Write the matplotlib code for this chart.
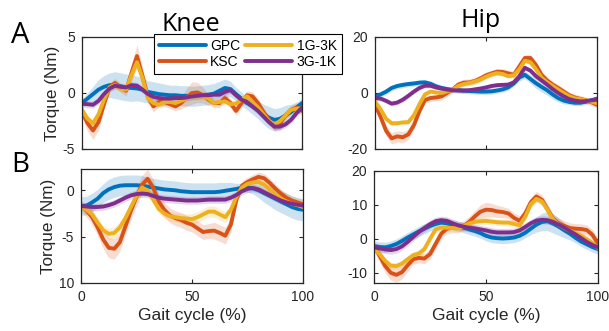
import numpy as np
import matplotlib
matplotlib.use("Agg")
import matplotlib.pyplot as plt

plt.rcParams['font.family'] = ['Liberation Sans', 'DejaVu Sans']

gait = [0, 2.5, 5, 7.5, 10, 12.5, 15, 17.5, 20, 22.5, 25, 27.5, 30, 32.5, 35, 37.5, 40,
        42.5, 45, 47.5, 50, 52.5, 55, 57.5, 60, 62.5, 65, 67.5, 70, 72.5, 75, 77.5, 80,
        82.5, 85, 87.5, 90, 92.5, 95, 97.5, 100]

groups = ["GPC", "KSC", "1G-3K", "3G-1K"]
colors = ["#0072BD", "#D95319", "#EDB120", "#7E2F8E"]

# ---- Knee, panel A ----
knee_a_gpc = [-0.9, -0.5, -0.1, 0.3, 0.55, 0.7, 0.7, 0.6, 0.5, 0.45, 0.4, 0.3, 0.1, 0.0, -0.1,
              -0.15, -0.2, -0.2, -0.25, -0.25, -0.3, -0.25, -0.2, -0.15, -0.05, 0.2, 0.45, 0.35,
              -0.1, -0.5, -0.9, -1.2, -1.5, -1.9, -2.2, -2.4, -2.3, -2.0, -1.7, -1.3, -0.9]
knee_a_ksc = [-1.65, -2.7, -3.35, -2.6, -1.0, 0.5, 0.9, 0.5, 0.2, 1.8, 3.3, 1.5, -0.4, -1.2,
              -0.8, -0.8, -1.0, -1.2, -0.9, -0.4, 0.0, 0.05, -0.2, -0.6, -0.9, -0.9, -0.45,
              -0.9, -1.6, -0.9, -0.2, -0.3, -0.9, -1.7, -2.4, -3.0, -2.7, -2.0, -1.5, -1.3, -1.6]
knee_a_1g3k = [-1.5, -2.3, -2.7, -1.9, -0.6, 0.5, 0.7, 0.35, 0.3, 1.6, 2.75, 1.3, -0.5, -0.9,
               -1.05, -0.8, -0.8, -0.9, -0.7, -0.5, -0.3, -0.3, -0.3, -0.5, -0.9, -0.8, -0.75,
               -1.0, -0.95, -0.6, -0.3, -0.8, -1.3, -1.9, -2.5, -2.8, -2.5, -2.0, -1.5, -1.4, -1.35]
knee_a_3g1k = [-0.95, -1.0, -1.05, -0.7, -0.1, 0.4, 0.65, 0.55, 0.5, 0.7, 0.65, 0.3, -0.1,
               -0.35, -0.45, -0.5, -0.5, -0.45, -0.45, -0.4, -0.3, -0.25, -0.2, -0.2, -0.15,
               -0.15, 0.1, 0.25, -0.2, -0.6, -0.8, -1.2, -1.6, -2.1, -2.6, -3.0, -3.0, -2.8,
               -2.4, -1.8, -1.3]
knee_a_gpc_sd = [0.4, 0.5, 0.7, 0.9, 1.0, 1.1, 1.2, 1.2, 1.2, 1.2, 1.1, 1.1, 1.0, 1.0, 1.0,
                 0.95, 0.9, 0.9, 0.9, 0.9, 0.9, 0.9, 0.9, 0.9, 0.9, 0.85, 0.8, 0.7, 0.6, 0.6,
                 0.6, 0.7, 0.8, 0.9, 1.0, 1.0, 1.0, 0.9, 0.7, 0.5, 0.4]
knee_a_ksc_sd = [0.5, 0.7, 0.8, 0.7, 0.5, 0.4, 0.4, 0.4, 0.5, 0.8, 1.0, 0.8, 0.6, 0.5, 0.4,
                 0.4, 0.4, 0.4, 0.5, 0.8, 1.0, 0.9, 0.7, 0.5, 0.4, 0.4, 0.4, 0.4, 0.4, 0.4,
                 0.4, 0.4, 0.4, 0.4, 0.4, 0.4, 0.4, 0.4, 0.4, 0.4, 0.4]
knee_a_1g3k_sd = [0.3, 0.3, 0.3, 0.3, 0.3, 0.3, 0.3, 0.3, 0.3, 0.35, 0.4, 0.35, 0.3, 0.3, 0.3,
                  0.3, 0.3, 0.3, 0.3, 0.3, 0.3, 0.3, 0.3, 0.3, 0.3, 0.3, 0.3, 0.3, 0.3, 0.3,
                  0.3, 0.3, 0.3, 0.3, 0.3, 0.3, 0.3, 0.3, 0.3, 0.3, 0.3]
knee_a_3g1k_sd = [0.3, 0.3, 0.3, 0.3, 0.3, 0.3, 0.3, 0.3, 0.3, 0.3, 0.3, 0.3, 0.3, 0.3, 0.3,
                  0.3, 0.3, 0.3, 0.3, 0.3, 0.3, 0.3, 0.3, 0.3, 0.3, 0.3, 0.3, 0.3, 0.3, 0.3,
                  0.3, 0.3, 0.3, 0.3, 0.3, 0.3, 0.3, 0.3, 0.3, 0.3, 0.3]

# ---- Hip, panel A ----
hip_a_gpc = [-1.2, -0.5, 0.5, 1.8, 2.5, 2.9, 3.2, 3.4, 3.7, 3.8, 3.3, 2.4, 1.8, 1.4, 1.1, 1.0,
             0.8, 0.7, 0.6, 0.5, 0.5, 0.6, 0.9, 1.3, 2.0, 3.4, 5.5, 6.5, 5.0, 3.5, 2.2, 1.0,
             -0.5, -1.8, -2.7, -3.2, -3.5, -3.5, -3.1, -2.6, -2.0]
hip_a_ksc = [-4.2, -8.5, -13.5, -16.2, -15.5, -15.8, -14.8, -11.5, -6.5, -2.5, -1.8, -1.6,
             -1.2, 0.0, 1.3, 3.0, 3.7, 3.8, 4.3, 5.2, 6.3, 7.0, 7.6, 7.5, 7.0, 6.5, 9.5, 12.5,
             12.5, 10.0, 6.5, 4.5, 3.0, 1.8, 0.5, -0.8, -1.6, -2.1, -2.6, -3.3, -4.2]
hip_a_1g3k = [-3.0, -5.8, -9.2, -10.8, -10.8, -10.5, -10.4, -8.0, -4.0, -0.5, 0.5, 0.2, 0.0,
              0.6, 1.2, 2.5, 3.2, 3.6, 4.1, 4.8, 5.8, 6.6, 7.1, 6.8, 6.0, 6.3, 8.5, 11.5, 11.0,
              8.5, 5.5, 3.8, 2.5, 1.2, 0.0, -1.2, -1.9, -2.2, -2.6, -3.1, -3.6]
hip_a_3g1k = [-1.8, -2.0, -2.8, -3.8, -3.4, -2.4, -1.0, 0.5, 1.8, 2.6, 2.6, 2.0, 1.6, 1.2, 1.0,
              0.9, 0.9, 1.0, 1.3, 1.6, 2.0, 2.5, 2.8, 2.9, 3.0, 3.8, 6.0, 9.0, 8.0, 6.0, 4.5,
              3.0, 1.4, 0.0, -1.2, -2.2, -2.7, -3.0, -2.9, -2.6, -2.4]
hip_a_gpc_sd = [1.0, 1.0, 1.0, 1.0, 1.0, 1.0, 1.0, 1.0, 1.0, 1.0, 1.0, 1.0, 1.0, 1.0, 1.0, 1.0,
                1.0, 1.0, 1.0, 1.0, 1.0, 1.0, 1.0, 1.0, 1.0, 1.0, 1.2, 1.4, 1.6, 1.8, 1.8, 1.8,
                1.6, 1.4, 1.2, 1.0, 1.0, 1.0, 1.0, 1.0, 1.0]
hip_a_ksc_sd = [1.2, 1.5, 1.8, 2.0, 2.0, 2.0, 1.8, 1.5, 1.2, 1.2, 1.2, 1.2, 1.2, 1.2, 1.2, 1.2,
                1.2, 1.2, 1.2, 1.2, 1.2, 1.2, 1.2, 1.2, 1.2, 1.2, 1.2, 1.2, 1.2, 1.2, 1.2, 1.2,
                1.2, 1.2, 1.2, 1.2, 1.2, 1.2, 1.2, 1.2, 1.2]
hip_a_1g3k_sd = [0.8, 0.8, 0.8, 0.8, 0.8, 0.8, 0.8, 0.8, 0.8, 0.8, 0.8, 0.8, 0.8, 0.8, 0.8, 0.8,
                 0.8, 0.8, 0.8, 0.8, 0.8, 0.8, 0.8, 0.8, 0.8, 0.8, 0.8, 0.8, 0.8, 0.8, 0.8, 0.8,
                 0.8, 0.8, 0.8, 0.8, 0.8, 0.8, 0.8, 0.8, 0.8]
hip_a_3g1k_sd = [0.8, 0.8, 0.8, 0.8, 0.8, 0.8, 0.8, 0.8, 0.8, 0.8, 0.8, 0.8, 0.8, 0.8, 0.8, 0.8,
                 0.8, 0.8, 0.8, 0.8, 0.8, 0.8, 0.8, 0.8, 0.8, 0.8, 0.8, 0.8, 0.8, 0.8, 0.8, 0.8,
                 0.8, 0.8, 0.8, 0.8, 0.8, 0.8, 0.8, 0.8, 0.8]

# ---- Knee, panel B ----
knee_b_gpc = [-1.7, -1.65, -1.3, -0.9, -0.3, 0.1, 0.35, 0.5, 0.55, 0.55, 0.55, 0.5, 0.4, 0.3,
              0.2, 0.1, 0.05, 0.0, -0.1, -0.15, -0.2, -0.2, -0.2, -0.2, -0.2, -0.15, -0.05,
              0.05, 0.15, 0.3, 0.3, 0.2, 0.0, -0.3, -0.6, -0.9, -1.2, -1.5, -1.8, -2.0, -2.1]
knee_b_ksc = [-1.7, -2.2, -2.9, -4.0, -5.3, -6.2, -6.3, -5.6, -3.9, -2.2, -0.7, 0.6, 1.25,
              0.3, -1.2, -2.1, -2.7, -3.0, -3.2, -3.5, -3.7, -4.1, -4.5, -4.4, -4.35, -4.6,
              -4.9, -3.7, -1.0, 0.5, 0.9, 1.2, 1.45, 1.3, 0.8, 0.2, -0.35, -0.8, -1.1, -1.3, -1.5]
knee_b_1g3k = [-1.8, -2.1, -2.6, -3.5, -4.3, -4.7, -4.6, -4.0, -3.0, -1.8, -0.6, 0.3, 0.0,
               -1.0, -2.0, -2.5, -2.8, -2.9, -3.0, -3.05, -3.1, -2.9, -2.6, -2.3, -2.3, -2.6,
               -2.9, -2.1, -0.7, 0.3, 0.7, 0.85, 0.9, 0.6, 0.1, -0.4, -0.9, -1.2, -1.45, -1.6,
               -1.8]
knee_b_3g1k = [-1.7, -1.75, -1.8, -1.8, -1.75, -1.6, -1.4, -1.1, -0.8, -0.55, -0.4, -0.35,
               -0.4, -0.6, -0.8, -0.9, -0.95, -1.0, -1.05, -1.1, -1.1, -1.1, -1.05, -1.0, -1.0,
               -1.0, -1.0, -0.8, -0.5, -0.1, 0.15, 0.25, 0.1, -0.2, -0.5, -0.8, -1.1, -1.3,
               -1.45, -1.55, -1.65]
knee_b_gpc_sd = [1.0, 1.0, 1.0, 1.0, 1.0, 1.1, 1.1, 1.1, 1.1, 1.1, 1.1, 1.1, 1.0, 1.0, 1.0,
                 1.0, 1.0, 1.0, 1.0, 1.0, 1.0, 1.0, 1.0, 1.0, 1.0, 1.0, 0.9, 0.8, 0.6, 0.5,
                 0.5, 0.6, 0.8, 1.0, 1.1, 1.2, 1.2, 1.2, 1.2, 1.2, 1.2]
knee_b_ksc_sd = [0.6, 0.7, 0.8, 0.9, 1.0, 1.1, 1.1, 1.0, 0.9, 0.9, 1.0, 1.0, 1.0, 0.9, 0.8,
                 0.8, 0.8, 0.8, 0.8, 0.8, 0.8, 0.8, 0.8, 0.8, 0.9, 0.9, 0.9, 0.8, 0.6, 0.5,
                 0.5, 0.5, 0.5, 0.5, 0.5, 0.5, 0.5, 0.5, 0.5, 0.5, 0.5]
knee_b_1g3k_sd = [0.4, 0.4, 0.5, 0.5, 0.5, 0.6, 0.6, 0.6, 0.5, 0.5, 0.5, 0.5, 0.5, 0.5, 0.5,
                  0.5, 0.5, 0.5, 0.5, 0.5, 0.6, 0.6, 0.6, 0.6, 0.6, 0.6, 0.6, 0.5, 0.5, 0.4,
                  0.4, 0.4, 0.4, 0.4, 0.4, 0.4, 0.4, 0.4, 0.4, 0.4, 0.4]
knee_b_3g1k_sd = [0.4, 0.4, 0.4, 0.4, 0.4, 0.4, 0.4, 0.4, 0.4, 0.4, 0.4, 0.4, 0.4, 0.4, 0.4,
                  0.4, 0.4, 0.4, 0.4, 0.4, 0.4, 0.4, 0.4, 0.4, 0.4, 0.4, 0.4, 0.4, 0.4, 0.4,
                  0.4, 0.4, 0.4, 0.4, 0.4, 0.4, 0.4, 0.4, 0.4, 0.4, 0.4]

# ---- Hip, panel B ----
hip_b_gpc = [-2.1, -2.4, -2.5, -2.1, -1.5, -0.6, 0.4, 1.3, 2.2, 3.0, 3.8, 4.4, 4.8, 4.6, 4.2,
             3.8, 3.3, 2.8, 2.3, 1.7, 0.9, 0.4, 0.2, 0.1, 0.2, 0.4, 0.9, 1.8, 3.0, 4.2, 5.0,
             5.2, 4.5, 3.6, 2.5, 1.5, 0.3, -0.8, -1.6, -2.4, -3.0]
hip_b_ksc = [-2.1, -5.0, -8.0, -10.0, -10.6, -9.8, -7.8, -6.0, -5.6, -5.8, -4.5, -1.5, 1.5,
             3.0, 3.3, 3.3, 3.8, 5.0, 6.6, 8.0, 8.6, 8.5, 8.1, 7.9, 7.5, 6.2, 5.3, 7.5, 10.8,
             12.5, 11.5, 8.7, 5.9, 4.6, 3.8, 3.2, 3.0, 2.9, 2.6, 1.2, -1.4]
hip_b_1g3k = [-3.0, -4.5, -6.5, -7.9, -8.0, -7.3, -6.0, -4.8, -4.3, -3.0, 0.0, 2.8, 3.3, 3.3,
              3.2, 3.1, 3.8, 4.6, 5.0, 5.2, 5.3, 5.1, 4.9, 4.8, 4.8, 4.4, 4.0, 6.5, 10.2, 11.8,
              11.0, 8.5, 5.6, 4.2, 3.2, 2.4, 1.7, 0.9, -0.1, -1.2, -2.7]
hip_b_3g1k = [-2.5, -2.8, -3.1, -3.3, -3.0, -2.2, -0.9, 0.6, 2.0, 3.2, 4.3, 5.2, 5.5, 5.3, 4.6,
              4.0, 3.6, 3.3, 3.1, 2.8, 2.5, 2.1, 1.9, 1.9, 1.9, 2.0, 2.5, 3.5, 4.6, 5.4, 5.6,
              5.5, 5.0, 4.2, 3.3, 2.3, 1.3, 0.2, -0.9, -1.8, -2.5]
hip_b_gpc_sd = [1.5, 1.5, 1.5, 1.5, 1.5, 1.5, 1.5, 1.5, 1.5, 1.5, 1.5, 1.5, 1.5, 1.5, 1.5, 1.5,
                1.5, 1.5, 1.5, 1.5, 1.5, 1.5, 1.5, 1.5, 1.5, 1.5, 1.5, 1.5, 1.8, 2.2, 2.6, 2.8,
                2.8, 2.6, 2.2, 1.8, 1.5, 1.5, 1.5, 1.5, 1.5]
hip_b_ksc_sd = [1.5, 1.8, 2.0, 2.2, 2.2, 2.0, 1.8, 1.5, 1.5, 1.5, 1.5, 1.5, 1.5, 1.5, 1.5, 1.5,
                1.5, 1.6, 1.8, 2.0, 2.2, 2.0, 1.8, 1.6, 1.5, 1.5, 1.5, 1.5, 1.5, 1.5, 1.5, 1.5,
                1.5, 1.5, 1.5, 1.5, 1.5, 1.5, 1.5, 1.5, 1.5]
hip_b_1g3k_sd = [1.0, 1.0, 1.0, 1.0, 1.0, 1.0, 1.0, 1.0, 1.0, 1.0, 1.0, 1.0, 1.0, 1.0, 1.0, 1.0,
                 1.0, 1.0, 1.0, 1.0, 1.0, 1.0, 1.0, 1.0, 1.0, 1.0, 1.0, 1.0, 1.0, 1.0, 1.0, 1.0,
                 1.0, 1.0, 1.0, 1.0, 1.0, 1.0, 1.0, 1.0, 1.0]
hip_b_3g1k_sd = [1.2, 1.2, 1.2, 1.2, 1.2, 1.2, 1.2, 1.2, 1.2, 1.2, 1.2, 1.2, 1.2, 1.2, 1.2, 1.2,
                 1.2, 1.2, 1.2, 1.2, 1.2, 1.2, 1.2, 1.2, 1.2, 1.2, 1.2, 1.2, 1.2, 1.2, 1.2, 1.2,
                 1.2, 1.2, 1.2, 1.2, 1.2, 1.2, 1.2, 1.2, 1.2]

x_ticks = [0, 50, 100]
x_tick_labels = ["0", "50", "100"]
knee_a_yticks = [-5, 0, 5]
knee_a_ylabels = ["-5", "0", "5"]
hip_a_yticks = [-20, 0, 20]
hip_a_ylabels = ["-20", "0", "20"]
knee_b_yticks = [-10, -5, 0]
knee_b_ylabels = ["10", "-5", "0"]
hip_b_yticks = [-10, 0, 10, 20]
hip_b_ylabels = ["-10", "0", "10", "20"]

W, H = 609, 331
fig = plt.figure(figsize=(W / 100, H / 100), dpi=100)


def axes_px(l, t, r, b):
    return fig.add_axes([l / W, 1 - b / H, (r - l) / W, (b - t) / H])


ax_ka = axes_px(82, 37, 302, 149)
ax_ha = axes_px(375, 37, 597, 149)
ax_kb = axes_px(81, 169, 303, 283)
ax_hb = axes_px(374, 171, 598, 283)

panels = [
    (ax_ka, [knee_a_gpc, knee_a_ksc, knee_a_1g3k, knee_a_3g1k],
     [knee_a_gpc_sd, knee_a_ksc_sd, knee_a_1g3k_sd, knee_a_3g1k_sd],
     (-5, 5), knee_a_yticks, knee_a_ylabels, False),
    (ax_ha, [hip_a_gpc, hip_a_ksc, hip_a_1g3k, hip_a_3g1k],
     [hip_a_gpc_sd, hip_a_ksc_sd, hip_a_1g3k_sd, hip_a_3g1k_sd],
     (-20, 20), hip_a_yticks, hip_a_ylabels, False),
    (ax_kb, [knee_b_gpc, knee_b_ksc, knee_b_1g3k, knee_b_3g1k],
     [knee_b_gpc_sd, knee_b_ksc_sd, knee_b_1g3k_sd, knee_b_3g1k_sd],
     (-10, 2.3), knee_b_yticks, knee_b_ylabels, True),
    (ax_hb, [hip_b_gpc, hip_b_ksc, hip_b_1g3k, hip_b_3g1k],
     [hip_b_gpc_sd, hip_b_ksc_sd, hip_b_1g3k_sd, hip_b_3g1k_sd],
     (-13, 20), hip_b_yticks, hip_b_ylabels, True),
]

x = np.array(gait)
edge = "#262626"
for ax, means, sds, ylim, yt, yl, show_x in panels:
    for m, s, c in zip(means, sds, colors):
        m = np.array(m)
        s = np.array(s)
        ax.fill_between(x, m - s, m + s, color=c, alpha=0.2, lw=0)
    for m, c, g in zip(means, colors, groups):
        ax.plot(x, m, color=c, lw=2.8, label=g, solid_capstyle='round',
                solid_joinstyle='round')
    ax.set_xlim(0, 100)
    ax.set_ylim(*ylim)
    ax.set_xticks(x_ticks)
    ax.set_yticks(yt)
    ax.set_yticklabels(yl)
    if show_x:
        ax.set_xticklabels(x_tick_labels)
        ax.set_xlabel("Gait cycle (%)", fontsize=12.5, color=edge, labelpad=3)
    else:
        ax.set_xticklabels([])
    ax.tick_params(direction='in', top=True, right=True, length=3, width=0.8,
                   labelsize=10, colors=edge, pad=5)
    for sp in ax.spines.values():
        sp.set_color(edge)
        sp.set_linewidth(0.9)

ax_ka.set_ylabel("Torque (Nm)", fontsize=12.3, color=edge, labelpad=2)
ax_kb.set_ylabel("Torque (Nm)", fontsize=12.3, color=edge, labelpad=2)

title_font = ['Open Sans', 'DejaVu Sans']
fig.text(191 / W, 1 - 31 / H, "Knee", fontsize=18, ha='center', va='baseline',
         color='black', family=title_font)
fig.text(481 / W, 1 - 27 / H, "Hip", fontsize=18, ha='center', va='baseline',
         color='black', family=title_font)
fig.text(20 / W, 1 - 43 / H, "A", fontsize=21, ha='center', va='baseline',
         color='black', family=title_font)
fig.text(20 / W, 1 - 172 / H, "B", fontsize=20, ha='center', va='baseline',
         color='black', family=title_font)

leg = ax_ka.legend(loc='upper left', bbox_to_anchor=(154 / W, 1 - 34 / H),
                   bbox_transform=fig.transFigure, ncol=2, fontsize=10,
                   frameon=True, fancybox=False, handlelength=3.4, handletextpad=0.3,
                   columnspacing=0.35, borderpad=0.35, labelspacing=0.15, borderaxespad=0)
leg.get_frame().set_edgecolor('black')
leg.get_frame().set_linewidth(0.8)
leg.get_frame().set_alpha(1)

fig.savefig("out.png", dpi=100)
